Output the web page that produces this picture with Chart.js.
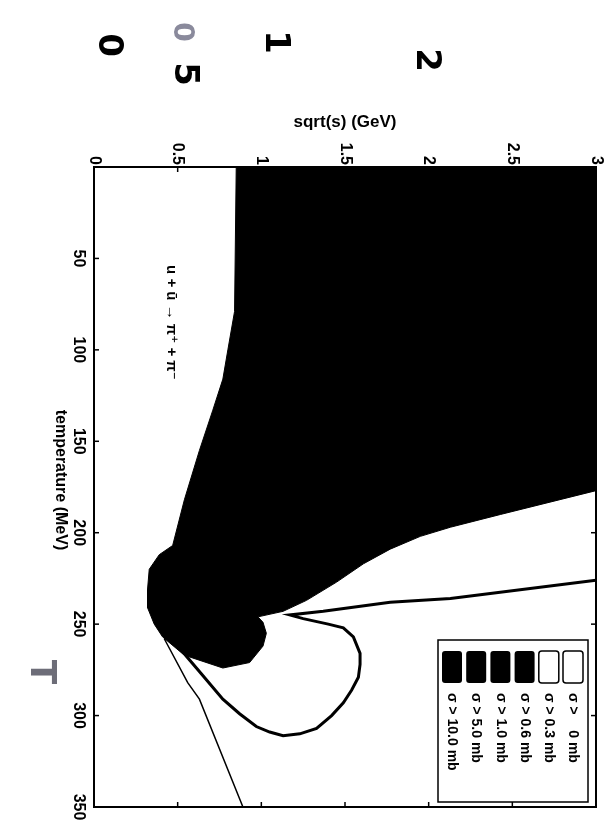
<!DOCTYPE html>
<html>
<head>
<meta charset="utf-8">
<script src="https://cdn.jsdelivr.net/npm/chart.js@4.4.1/dist/chart.umd.min.js"></script>
<style>
  html, body { margin: 0; padding: 0; background: #fff; }
  canvas { display: block; }
</style>
</head>
<body>
<canvas id="myChart" width="615" height="825"></canvas>
<script>
// tick labels
var sqrtsTicks = [0, 0.5, 1, 1.5, 2, 2.5, 3];
var tempTicks = [0, 50, 100, 150, 200, 250, 300, 350];
var tempLabels = ['', '50', '100', '150', '200', '250', '300', '350'];

// black region (sigma > 0.6 ... 10 mb), outline as sqrt(s) [GeV] / T [MeV]
var blackS = [0.85, 0.84, 0.80, 0.77, 0.71, 0.63, 0.54, 0.47, 0.39, 0.33, 0.32, 0.32, 0.36, 0.41, 0.54, 0.77, 0.93, 1.01, 1.03, 1.01, 0.98, 1.13, 1.27, 1.45, 1.61, 1.77, 1.95, 2.13, 2.43, 3.00, 3.05, 3.05, 0.85];
var blackT = [0, 79, 100, 116, 133, 155, 182, 207, 212, 220, 231, 241, 250, 257, 267, 274, 271, 262, 255, 249, 246, 243, 237, 227, 217, 209, 202, 197, 190, 177, 177, -5, -5];

// sigma = 0.3 mb contour
var c03S = [3.00, 2.13, 1.77, 1.37, 1.17, 1.25, 1.40, 1.49, 1.55, 1.59, 1.59, 1.58, 1.54, 1.49, 1.42, 1.33, 1.23, 1.13, 1.05, 0.97, 0.87, 0.77, 0.64, 0.51, 0.45];
var c03T = [226, 236, 238, 243, 245, 247, 250, 252, 257, 266, 272, 279, 286, 293, 300, 307, 310, 311, 309, 306, 299, 291, 277, 263, 259];

// sigma = 0 mb contour
var c0S = [0.42, 0.56, 0.63, 0.89, 0.90];
var c0T = [258, 282, 291, 350, 352];

var legendLabels = ['σ > 10.0 mb', 'σ > 5.0 mb', 'σ > 1.0 mb', 'σ > 0.6 mb', 'σ > 0.3 mb', 'σ >    0 mb'];
var legendFilled = [true, true, true, true, false, false];

var FONT = '"Liberation Sans", Arial, "DejaVu Sans", sans-serif';

function toPoints(xs, ys) {
  var pts = [];
  for (var i = 0; i < xs.length; ++i) {
    pts.push({ x: xs[i], y: ys[i] });
  }
  return pts;
}

function rotText(c, txt, x, y, align, font, color) {
  c.save();
  c.translate(x, y);
  c.rotate(Math.PI / 2);
  c.textAlign = align;
  c.textBaseline = 'middle';
  c.font = font;
  c.fillStyle = color || '#000';
  c.fillText(txt, 0, 0);
  c.restore();
}

function seg(c, x1, y1, x2, y2) {
  c.beginPath();
  c.moveTo(x1, y1);
  c.lineTo(x2, y2);
  c.stroke();
}

// frame, rotated tick labels, titles, legend and notes
var textPlugin = {
  id: 'textPlugin',
  afterDraw: function(chart) {
    var c = chart.ctx;
    var a = chart.chartArea;
    var xs = chart.scales.x;
    var ys = chart.scales.y;
    c.save();
    c.strokeStyle = '#000';
    c.lineWidth = 2;
    c.strokeRect(a.left, a.top, a.right - a.left, a.bottom - a.top);

    c.lineWidth = 1.5;
    xs.ticks.forEach(function(t) {
      var px = xs.getPixelForValue(t.value);
      seg(c, px, a.top, px, a.top + 5);
      seg(c, px, a.bottom, px, a.bottom - 5);
      rotText(c, String(t.value), px, a.top - 2, 'right', 'bold 16px ' + FONT);
    });
    ys.ticks.forEach(function(t, i) {
      var py = ys.getPixelForValue(t.value);
      seg(c, a.left, py, a.left + 5, py);
      seg(c, a.right, py, a.right - 5, py);
      rotText(c, tempLabels[i], 78, py, 'center', 'bold 16px ' + FONT);
    });

    // axis titles
    c.font = 'bold 17px ' + FONT;
    c.fillStyle = '#000';
    c.textAlign = 'center';
    c.textBaseline = 'middle';
    c.fillText('sqrt(s) (GeV)', (a.left + a.right) / 2, 122);
    rotText(c, 'temperature (MeV)', 60, 480, 'center', 'bold 16px ' + FONT);

    // reaction
    rotText(c, 'u + ū → π⁺ + π⁻', xs.getPixelForValue(0.46), ys.getPixelForValue(85), 'center', 'bold 15px ' + FONT);

    // legend
    c.fillStyle = '#fff';
    c.fillRect(438, 640, 150, 162);
    c.lineWidth = 1.5;
    c.strokeRect(438, 640, 150, 162);
    for (var i = 0; i < legendLabels.length; ++i) {
      var sx = 442 + i * 24.2;
      c.beginPath();
      c.roundRect(sx, 651, 20, 32, 3);
      if (legendFilled[i]) {
        c.fillStyle = '#000';
        c.fill();
      } else {
        c.fillStyle = '#fff';
        c.fill();
        c.lineWidth = 1.5;
        c.stroke();
      }
      rotText(c, legendLabels[i], sx + 10, 693, 'left', 'bold 14px ' + FONT);
    }

    // hand-written notes on the scan
    var hand = 'bold 34px "DejaVu Sans", sans-serif';
    rotText(c, '0', 108, 45, 'center', hand, '#000');
    rotText(c, '0', 181, 32, 'center', 'bold 28px "DejaVu Sans", sans-serif', '#8a8a9c');
    rotText(c, '5', 184, 74, 'center', hand, '#000');
    rotText(c, '1', 275, 42, 'center', hand, '#000');
    rotText(c, '2', 426, 60, 'center', hand, '#000');
    rotText(c, 'T', 40, 672, 'center', 'bold 36px "DejaVu Sans", sans-serif', '#6d6d78');
    c.restore();
  }
};

var ctx = document.getElementById('myChart').getContext('2d');
var myChart = new Chart(ctx, {
  type: 'scatter',
  data: {
    datasets: [
      { label: 'σ > 0.6 mb', data: toPoints(blackS, blackT), showLine: true, fill: 'shape',
        backgroundColor: '#000', borderColor: '#000', borderWidth: 1, pointRadius: 0, tension: 0 },
      { label: 'σ > 0.3 mb', data: toPoints(c03S, c03T), showLine: true, fill: false,
        borderColor: '#000', borderWidth: 3, pointRadius: 0, tension: 0 },
      { label: 'σ > 0 mb', data: toPoints(c0S, c0T), showLine: true, fill: false,
        borderColor: '#000', borderWidth: 1.5, pointRadius: 0, tension: 0 }
    ]
  },
  options: {
    responsive: false,
    animation: false,
    layout: { padding: { left: 94, top: 167, right: 19, bottom: 18 } },
    plugins: { legend: { display: false }, tooltip: { enabled: false } },
    scales: {
      x: {
        type: 'linear', position: 'top', min: 0, max: 3,
        grid: { display: false, drawTicks: false }, border: { display: false },
        ticks: { display: false, padding: 0 },
        afterBuildTicks: function(axis) { axis.ticks = sqrtsTicks.map(function(v) { return { value: v }; }); }
      },
      y: {
        type: 'linear', position: 'left', reverse: true, min: 0, max: 350,
        grid: { display: false, drawTicks: false }, border: { display: false },
        ticks: { display: false, padding: 0 },
        afterBuildTicks: function(axis) { axis.ticks = tempTicks.map(function(v) { return { value: v }; }); }
      }
    }
  },
  plugins: [textPlugin]
});
</script>
</body>
</html>
